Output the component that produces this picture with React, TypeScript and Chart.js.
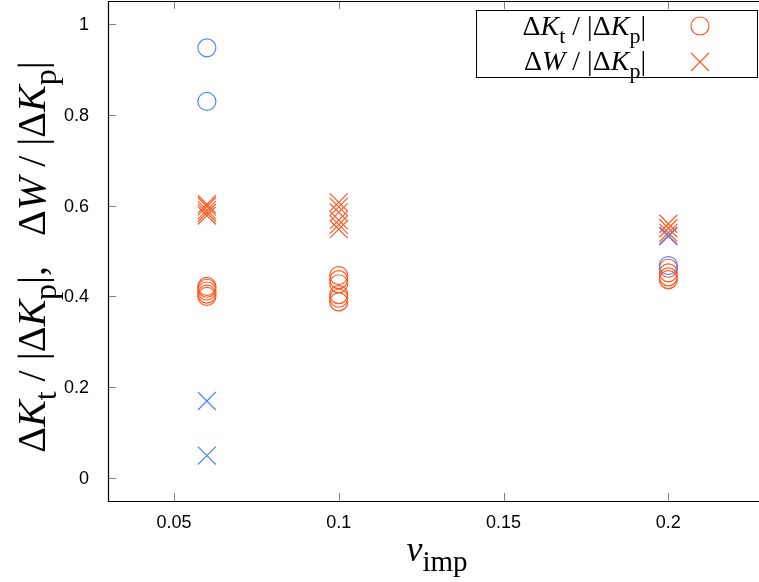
import React, { useEffect, useRef } from "react";
import { Chart, registerables } from "chart.js";

Chart.register(...registerables);

// x positions (v_imp) and values
const orangeCircleX = [0.06, 0.06, 0.06, 0.06, 0.06, 0.1, 0.1, 0.1, 0.1, 0.1, 0.1, 0.2, 0.2, 0.2, 0.2];
const orangeCircleY = [0.4, 0.405, 0.412, 0.418, 0.422, 0.388, 0.396, 0.404, 0.428, 0.437, 0.446, 0.437, 0.443, 0.452, 0.462];
const orangeCrossX = [0.06, 0.06, 0.06, 0.06, 0.06, 0.1, 0.1, 0.1, 0.1, 0.1, 0.1, 0.2, 0.2, 0.2, 0.2];
const orangeCrossY = [0.578, 0.584, 0.59, 0.598, 0.603, 0.548, 0.558, 0.568, 0.585, 0.597, 0.607, 0.532, 0.54, 0.55, 0.56];
const blueCircleX = [0.06, 0.06, 0.2];
const blueCircleY = [0.947, 0.829, 0.468];
const blueCrossX = [0.06, 0.06, 0.2];
const blueCrossY = [0.17, 0.05, 0.534];

const xTicks = [0.05, 0.1, 0.15, 0.2];
const xTickLabels = ["0.05", "0.1", "0.15", "0.2"];
const yTicks = [0, 0.2, 0.4, 0.6, 0.8, 1];
const yTickLabels = ["0", "0.2", "0.4", "0.6", "0.8", "1"];

const ORANGE = "#ff5a22";
const BLUE = "#4d85ff";
const SERIF = '"Liberation Serif", "DejaVu Serif", serif';
const SANS = '"Liberation Sans", Arial, sans-serif';

type Part = { t: string; it?: boolean; sub?: boolean };

function drawRich(ctx: CanvasRenderingContext2D, parts: Part[], x: number, y: number, align: string, size: number) {
  const fontOf = (p: Part) => `${p.it ? "italic " : ""}${p.sub ? Math.round(size * 0.8) : size}px ${SERIF}`;
  let total = 0;
  const widths = parts.map((p) => {
    ctx.font = fontOf(p);
    const w = ctx.measureText(p.t).width;
    total += w;
    return w;
  });
  let cx = align === "right" ? x - total : align === "center" ? x - total / 2 : x;
  ctx.textAlign = "left";
  ctx.textBaseline = "alphabetic";
  parts.forEach((p, i) => {
    ctx.font = fontOf(p);
    ctx.fillText(p.t, cx, y + (p.sub ? size * 0.28 : 0));
    cx += widths[i];
  });
}

const toPts = (xs: number[], ys: number[]) => xs.map((x, i) => ({ x, y: ys[i] }));

const framePlugin = {
  id: "frame",
  afterDraw(chart: any) {
    const { ctx, chartArea: a, scales } = chart;
    const xs = scales.x;
    const ys = scales.y;
    ctx.save();
    // ticks (inward, mirrored on top)
    ctx.strokeStyle = "#808080";
    ctx.lineWidth = 1;
    ctx.beginPath();
    xTicks.forEach((v) => {
      const px = Math.round(xs.getPixelForValue(v)) + 0.5;
      ctx.moveTo(px, a.bottom);
      ctx.lineTo(px, a.bottom - 8);
      ctx.moveTo(px, a.top);
      ctx.lineTo(px, a.top + 8);
    });
    yTicks.forEach((v) => {
      const py = Math.round(ys.getPixelForValue(v)) + 0.5;
      ctx.moveTo(a.left, py);
      ctx.lineTo(a.left + 8, py);
    });
    ctx.stroke();
    // frame (left, top, bottom; right side lies beyond the canvas)
    ctx.strokeStyle = "#000";
    ctx.lineWidth = 1.2;
    ctx.beginPath();
    ctx.moveTo(759, a.top + 0.5);
    ctx.lineTo(a.left + 0.5, a.top + 0.5);
    ctx.lineTo(a.left + 0.5, a.bottom + 0.5);
    ctx.lineTo(759, a.bottom + 0.5);
    ctx.stroke();
    // tick labels
    ctx.fillStyle = "#000";
    ctx.font = `18px ${SANS}`;
    ctx.textAlign = "center";
    ctx.textBaseline = "middle";
    xTicks.forEach((v, i) => {
      ctx.fillText(xTickLabels[i], xs.getPixelForValue(v), a.bottom + 22);
    });
    ctx.textAlign = "right";
    yTicks.forEach((v, i) => {
      ctx.fillText(yTickLabels[i], a.left - 19, ys.getPixelForValue(v) + 1);
    });
    // x title
    drawRich(ctx, [{ t: "v", it: true }, { t: "imp", sub: true }], 437, 561, "center", 36);
    // y title
    ctx.save();
    ctx.translate(45, 257);
    ctx.rotate(-Math.PI / 2);
    drawRich(
      ctx,
      [
        { t: "Δ" }, { t: "K", it: true }, { t: "t", sub: true },
        { t: " / |Δ" }, { t: "K", it: true }, { t: "p", sub: true },
        { t: "|,   Δ" }, { t: "W", it: true }, { t: " / |Δ" }, { t: "K", it: true }, { t: "p", sub: true }, { t: "|" },
      ],
      0,
      0,
      "center",
      40
    );
    ctx.restore();
    // legend
    ctx.fillStyle = "#fff";
    ctx.fillRect(476, 10, 281, 67);
    ctx.strokeStyle = "#000";
    ctx.lineWidth = 1;
    ctx.strokeRect(476.5, 10.5, 281, 67);
    ctx.fillStyle = "#000";
    drawRich(ctx, [{ t: "Δ" }, { t: "K", it: true }, { t: "t", sub: true }, { t: " / |Δ" }, { t: "K", it: true }, { t: "p", sub: true }, { t: "|" }], 646, 35, "right", 28);
    drawRich(ctx, [{ t: "Δ" }, { t: "W", it: true }, { t: " / |Δ" }, { t: "K", it: true }, { t: "p", sub: true }, { t: "|" }], 646, 70, "right", 28);
    ctx.strokeStyle = ORANGE;
    ctx.lineWidth = 1.2;
    ctx.beginPath();
    ctx.arc(700, 26, 9, 0, Math.PI * 2);
    ctx.stroke();
    ctx.beginPath();
    ctx.moveTo(691, 53);
    ctx.lineTo(709, 71);
    ctx.moveTo(709, 53);
    ctx.lineTo(691, 71);
    ctx.stroke();
    ctx.restore();
  },
};

export default function App() {
  const ref = useRef<HTMLCanvasElement | null>(null);
  useEffect(() => {
    if (!ref.current) return;
    const common = { showLine: false, pointBorderWidth: 1.2, pointBackgroundColor: "rgba(0,0,0,0)", pointHoverRadius: 9 };
    const chart = new Chart(ref.current, {
      type: "scatter",
      data: {
        datasets: [
          { ...common, label: "blue circles", data: toPts(blueCircleX, blueCircleY), pointStyle: "circle", pointRadius: 9, borderColor: BLUE, pointBorderColor: BLUE },
          { ...common, label: "blue crosses", data: toPts(blueCrossX, blueCrossY), pointStyle: "crossRot", pointRadius: 12.7, borderColor: BLUE, pointBorderColor: BLUE },
          { ...common, label: "ΔKt / |ΔKp|", data: toPts(orangeCircleX, orangeCircleY), pointStyle: "circle", pointRadius: 9, borderColor: ORANGE, pointBorderColor: ORANGE },
          { ...common, label: "ΔW / |ΔKp|", data: toPts(orangeCrossX, orangeCrossY), pointStyle: "crossRot", pointRadius: 12.7, borderColor: ORANGE, pointBorderColor: ORANGE },
        ],
      } as any,
      options: {
        responsive: false,
        animation: false,
        events: [],
        layout: { autoPadding: false, padding: { top: 1, right: -1, left: 0, bottom: 0 } },
        plugins: { legend: { display: false }, tooltip: { enabled: false } },
        scales: {
          x: {
            type: "linear",
            min: 0.03,
            max: 0.2275,
            ticks: { display: false },
            grid: { display: false, drawTicks: false },
            border: { display: false },
            afterFit: (s: any) => { s.height = 81; },
          },
          y: {
            type: "linear",
            min: -0.05,
            max: 1.05,
            ticks: { display: false },
            grid: { display: false, drawTicks: false },
            border: { display: false },
            afterFit: (s: any) => { s.width = 108; },
          },
        },
      } as any,
      plugins: [framePlugin],
    });
    return () => chart.destroy();
  }, []);
  return (
    <div style={{ position: "absolute", left: 0, top: 0, width: 759, height: 582, background: "#fff" }}>
      <canvas ref={ref} width={759} height={582} style={{ display: "block" }} />
    </div>
  );
}
